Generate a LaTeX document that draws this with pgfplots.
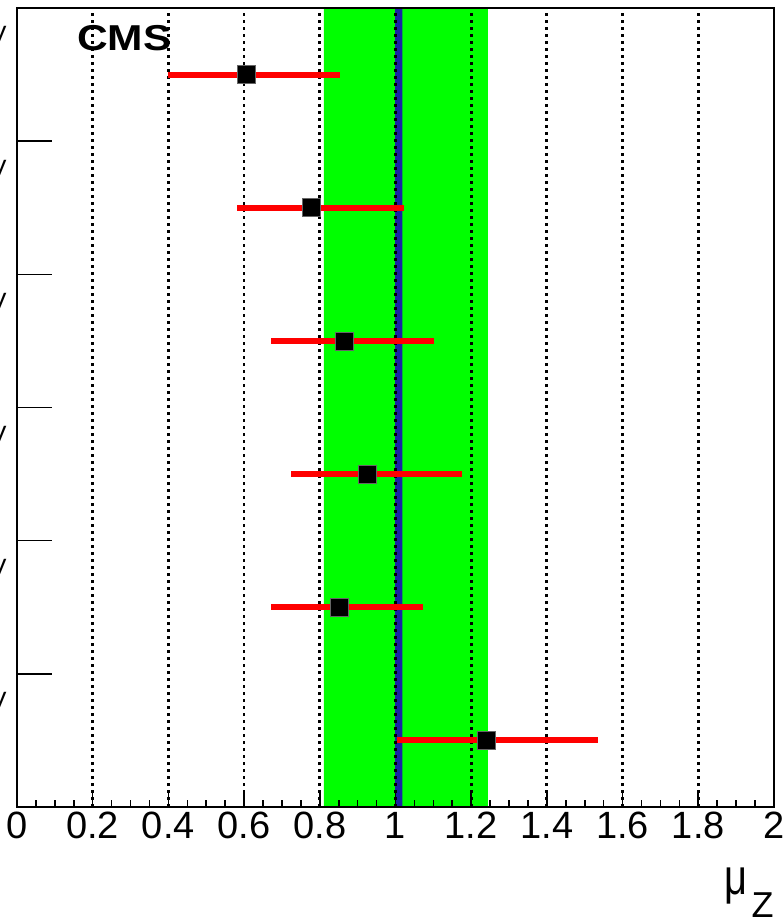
\documentclass[border=0pt]{standalone}
\usepackage{fontspec}
\setmainfont{Liberation Sans}
\usepackage{pgfplots}
\usepackage{pgfplotstable}
\pgfplotsset{compat=1.18}

\definecolor{rootgreen}{RGB}{0,255,0}
\definecolor{rootblue}{RGB}{25,35,165}
\definecolor{rootred}{RGB}{255,0,0}

% signal strength per channel: central value, +err, -err
\pgfplotstableread{
y   x     ep    em
5.5 0.605 0.248 0.205
4.5 0.779 0.243 0.198
3.5 0.864 0.238 0.193
2.5 0.927 0.249 0.203
1.5 0.851 0.222 0.180
0.5 1.239 0.296 0.235
}\mudata

\tikzset{chlabel/.style={anchor=base east, inner sep=0, font=\fontsize{12.5}{14}\selectfont, xshift=-5pt}}

\begin{document}
\begin{tikzpicture}
  \begin{axis}[
      scale only axis,
      width=378.5pt, height=399.5pt,
      xmin=0, xmax=2, ymin=0, ymax=6,
      xtick={0,0.2,...,2.01},
      minor x tick num=3,
      ytick={1,2,3,4,5},
      yticklabels={,,,,,},
      xtick pos=bottom, ytick pos=left,
      xtick style={/pgfplots/major tick length=7pt, /pgfplots/minor tick length=3.5pt},
      ytick style={/pgfplots/major tick length=17.5pt},
      every tick/.style={black, line width=0.8pt},
      axis line style={line width=1.2pt},
      /pgf/number format/assume math mode=true,
      xticklabel style={font=\fontsize{19}{22}\selectfont, yshift=1pt},
      axis on top,
      clip=false,
    ]
    % combined uncertainty band
    \addplot[fill=rootgreen, draw=none] coordinates {(0.811,0) (1.244,0) (1.244,6) (0.811,6)} \closedcycle;
    % SM line
    \addplot[fill=rootblue, draw=none] coordinates {(0.999,0) (1.018,0) (1.018,6) (0.999,6)} \closedcycle;
    % vertical dotted grid
    \pgfplotsinvokeforeach{0.2,0.4,0.6,0.8,1.0,1.2,1.4,1.6,1.8}{
      \addplot[black, line width=1.4pt, dash pattern=on 1.4pt off 2.1pt] coordinates {(#1,0) (#1,6)};
    }
    % error bars
    \addplot[only marks, mark=none,
      error bars/.cd, x dir=both, x explicit, error mark=none,
      error bar style={rootred, line width=3pt}]
      table[x=x, y=y, x error plus=ep, x error minus=em] {\mudata};
    % central values
    \addplot[only marks, mark=square*, mark size=4.5pt,
      mark options={fill=black, draw=black!60, line width=0.4pt}]
      table[x=x, y=y] {\mudata};

    \node[anchor=base west, inner sep=0, font=\fontsize{18}{22}\selectfont\bfseries]
      at (axis cs:0.158,5.683) {\scalebox{1.18}[1]{CMS}};

    \node[chlabel] at (axis cs:0,5.73) {7 TeV};
    \node[chlabel] at (axis cs:0,4.73) {7 TeV};
    \node[chlabel] at (axis cs:0,3.73) {7 TeV};
    \node[chlabel] at (axis cs:0,2.73) {8 TeV};
    \node[chlabel] at (axis cs:0,1.73) {8 TeV};
    \node[chlabel] at (axis cs:0,0.73) {8 TeV};

    \node[anchor=base east, inner sep=0, font=\fontsize{18}{22}\selectfont, yshift=-43.5pt]
      at (rel axis cs:1,0) {{\fontsize{21}{24}\selectfont\scalebox{0.95}[1.2]{μ}}\kern2pt\raisebox{-11.5pt}{Z}};

    \coordinate (sw) at (rel axis cs:0,0);
    \coordinate (ne) at (rel axis cs:1,1);
  \end{axis}
  \pgfresetboundingbox
  \path[use as bounding box] ([shift={(-8.5pt,-55pt)}]sw) rectangle ([shift={(5pt,4pt)}]ne);
\end{tikzpicture}
\end{document}
